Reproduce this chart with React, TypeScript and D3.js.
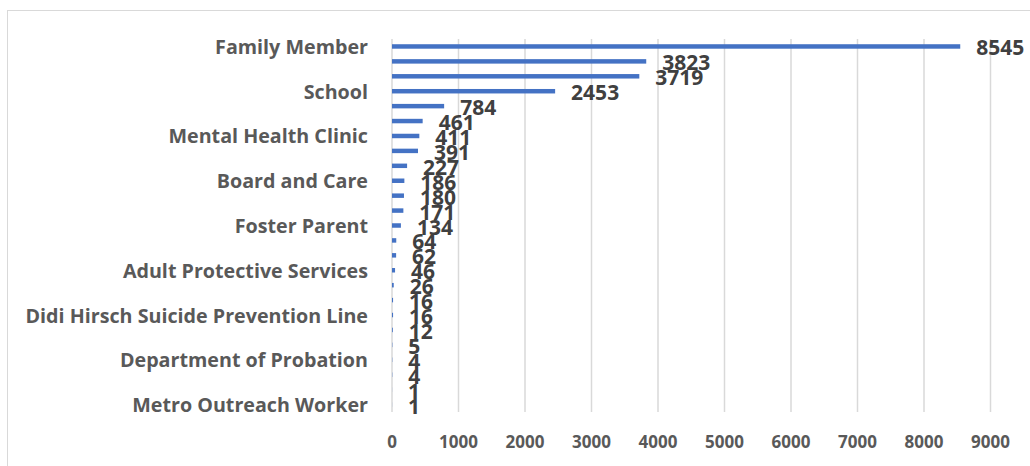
import React, { useEffect, useRef } from 'react';
import * as d3 from 'd3';

// categories in chart order (top to bottom); Excel only printed every third name
const categories = [
  'Family Member', '', '', 'School', '', '', 'Mental Health Clinic', '', '',
  'Board and Care', '', '', 'Foster Parent', '', '', 'Adult Protective Services', '', '',
  'Didi Hirsch Suicide Prevention Line', '', '', 'Department of Probation', '', '',
  'Metro Outreach Worker',
];
const values = [
  8545, 3823, 3719, 2453, 784, 461, 411, 391, 227, 186, 180, 171, 134,
  64, 62, 46, 26, 16, 16, 12, 5, 4, 4, 1, 1,
];
const xTicks = [0, 1000, 2000, 3000, 4000, 5000, 6000, 7000, 8000, 9000];

const width = 1030;
const height = 466;
const margin = { top: 39, right: 39.5, bottom: 54, left: 392 };
const font = '"Open Sans", Lato, sans-serif';

const App: React.FC = () => {
  const svgRef = useRef<SVGSVGElement>(null);

  useEffect(() => {
    if (!svgRef.current) return;
    const svg = d3.select(svgRef.current);
    svg.selectAll('*').remove();

    const innerWidth = width - margin.left - margin.right;
    const innerHeight = height - margin.top - margin.bottom;

    const x = d3.scaleLinear().domain([0, 9000]).range([0, innerWidth]);
    const y = d3.scaleBand<number>()
      .domain(d3.range(values.length))
      .range([0, innerHeight])
      .paddingInner(0.7)
      .paddingOuter(0.35);

    // chart area frame
    svg.append('rect')
      .attr('x', 7.5).attr('y', 10.5)
      .attr('width', 1100).attr('height', 600)
      .attr('fill', '#fff').attr('stroke', '#d9d9d9').attr('stroke-width', 1);

    const g = svg.append('g').attr('transform', `translate(${margin.left},${margin.top})`);

    // vertical gridlines
    g.selectAll('.grid')
      .data(xTicks)
      .enter()
      .append('line')
      .attr('x1', d => x(d)).attr('x2', d => x(d))
      .attr('y1', 0).attr('y2', innerHeight)
      .attr('stroke', '#d9d9d9').attr('stroke-width', 1.5);

    // x tick labels
    g.selectAll('.xtick')
      .data(xTicks)
      .enter()
      .append('text')
      .attr('x', d => x(d))
      .attr('y', innerHeight + 29)
      .attr('text-anchor', 'middle')
      .attr('dominant-baseline', 'central')
      .attr('font-family', font).attr('font-weight', 700)
      .attr('font-size', 17).attr('fill', '#595959')
      .text(d => String(d));

    // bars
    g.selectAll('.bar')
      .data(values)
      .enter()
      .append('rect')
      .attr('x', 0)
      .attr('y', (_, i) => y(i) || 0)
      .attr('width', d => x(d))
      .attr('height', y.bandwidth())
      .attr('fill', '#4472c4');

    // category labels
    g.selectAll('.cat')
      .data(categories)
      .enter()
      .append('text')
      .attr('x', -24)
      .attr('y', (_, i) => (y(i) || 0) + y.bandwidth() / 2)
      .attr('text-anchor', 'end')
      .attr('dominant-baseline', 'central')
      .attr('font-family', font).attr('font-weight', 700)
      .attr('font-size', 19.7).attr('fill', '#595959')
      .text(d => d);

    // data labels
    g.selectAll('.val')
      .data(values)
      .enter()
      .append('text')
      .attr('x', d => x(d) + 16)
      .attr('y', (_, i) => (y(i) || 0) + y.bandwidth() / 2 + 1)
      .attr('dominant-baseline', 'central')
      .attr('font-family', font).attr('font-weight', 700)
      .attr('font-size', 21).attr('fill', '#404040')
      .text(d => String(d));
  }, []);

  return (
    <svg
      ref={svgRef}
      width={width}
      height={height}
      style={{ position: 'absolute', left: 0, top: 0, background: '#fff' }}
    />
  );
};

export default App;
